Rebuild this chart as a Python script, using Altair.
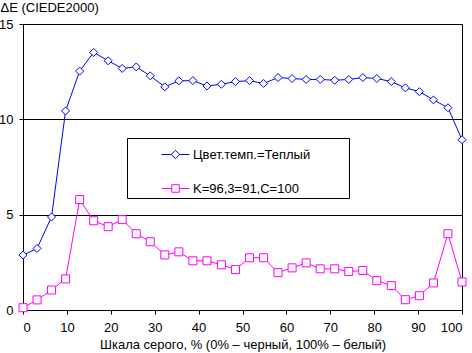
import altair as alt
import pandas as pd

x_vals = [0, 3.2, 6.5, 9.7, 12.9, 16.1, 19.4, 22.6, 25.8, 29.0, 32.3, 35.5, 38.7, 41.9, 45.2, 48.4,
          51.6, 54.8, 58.1, 61.3, 64.5, 67.7, 71.0, 74.2, 77.4, 80.6, 83.9, 87.1, 90.3, 93.5, 96.8, 100]
warm = [2.88, 3.23, 4.88, 10.44, 12.53, 13.51, 13.07, 12.67, 12.75, 12.28, 11.70, 12.02, 12.03, 11.75, 11.84, 11.98,
        12.03, 11.88, 12.19, 12.14, 12.09, 12.09, 12.05, 12.09, 12.19, 12.14, 11.98, 11.65, 11.45, 11.02, 10.61, 8.93]
kzc = [0.12, 0.53, 1.05, 1.63, 5.79, 4.68, 4.37, 4.74, 4.00, 3.58, 2.89, 3.05, 2.58, 2.58, 2.37, 2.12,
       2.74, 2.74, 1.96, 2.21, 2.47, 2.16, 2.16, 2.02, 2.07, 1.54, 1.28, 0.54, 0.75, 1.42, 4.00, 1.47]
series_names = ["Цвет.темп.=Теплый", "K=96,3=91,C=100"]
series_colors = ["#0000ff", "#ff00ff"]
x_ticks = [0, 10, 20, 30, 40, 50, 60, 70, 80, 90, 100]
y_ticks = [0, 5, 10, 15]

rows = []
for xv, a, b in zip(x_vals, warm, kzc):
    rows.append({"x": xv, "y": a, "s": series_names[0]})
    rows.append({"x": xv, "y": b, "s": series_names[1]})
df = pd.DataFrame(rows)

FONT = "Liberation Sans"
# legend symbols: a short line with the marker drawn in the middle
diamond_leg = "M-1,0L-0.3,0M0.3,0L1,0M-0.3,0L0,-0.3L0.3,0L0,0.3Z"
square_leg = "M-1,0L-0.27,0M0.27,0L1,0M-0.27,-0.27L0.27,-0.27L0.27,0.27L-0.27,0.27Z"

legend = alt.Legend(
    title="ww", titleOrient="right", titleColor="white", titleFont=FONT, titleFontSize=13,
    titlePadding=16,
    orient="none", legendX=104, legendY=114, direction="vertical",
    padding=2, strokeColor="black", fillColor="white",
    symbolSize=784, symbolStrokeWidth=1, symbolOffset=32, labelOffset=3,
    labelFont=FONT, labelFontSize=13, labelColor="black", rowPadding=12,
)

xenc = alt.X("x:Q", scale=alt.Scale(domain=[0, 100], nice=False),
             axis=alt.Axis(values=x_ticks, grid=False, tickSize=4, labelPadding=7,
                           title="Шкала серого, % (0% – черный, 100% – белый)",
                           titleBaseline="alphabetic", titleY=38))
yenc = alt.Y("y:Q", scale=alt.Scale(domain=[0, 15], nice=False),
             axis=alt.Axis(values=y_ticks, grid=True, tickSize=4, labelPadding=6,
                           title="ΔE (CIEDE2000)", titleAngle=0, titleAlign="left",
                           titleBaseline="alphabetic", titleX=-23, titleY=-13))
stroke_scale = alt.Scale(domain=series_names, range=series_colors)

lines = alt.Chart(df).mark_line(strokeWidth=1).encode(
    x=xenc, y=yenc, stroke=alt.Stroke("s:N", scale=stroke_scale, legend=None), detail="s:N")
points = alt.Chart(df).mark_point(filled=True, fill="white", opacity=1, strokeWidth=1, size=64).encode(
    x=xenc, y=yenc, stroke=alt.Stroke("s:N", scale=stroke_scale, legend=None),
    shape=alt.Shape("s:N", scale=alt.Scale(domain=series_names, range=["diamond", "square"]), legend=None),
)
legend_layer = alt.Chart(df).mark_point(filled=False, opacity=1, strokeWidth=1, size=0).encode(
    x=xenc, y=yenc, stroke=alt.Stroke("s:N", scale=stroke_scale, legend=legend),
    shape=alt.Shape("s:N", scale=alt.Scale(domain=series_names, range=[diamond_leg, square_leg]), legend=legend),
)

chart = alt.layer(lines, points, legend_layer).resolve_scale(
    stroke="independent", shape="independent"
).properties(
    width=439, height=286,
    autosize=alt.AutoSizeParams(type="none"),
    padding={"left": 23, "top": 24, "right": 10, "bottom": 43},
).configure_view(stroke="black", strokeWidth=1).configure_axis(
    labelFont=FONT, labelFontSize=13, labelColor="black",
    titleFont=FONT, titleFontSize=13, titleColor="black", titleFontWeight="normal",
    domainColor="black", tickColor="black", gridColor="black", gridOpacity=1,
)

chart.save("out.html", embed_options={"renderer": "svg", "actions": False})
